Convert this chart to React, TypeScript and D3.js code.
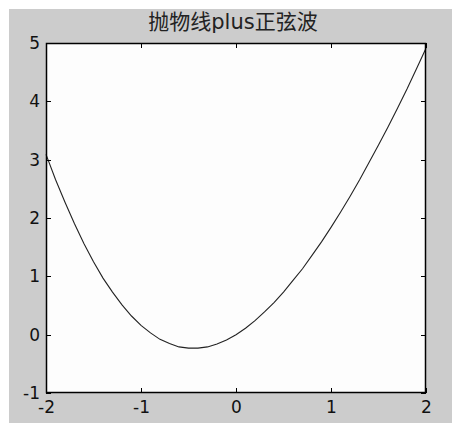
import React, { useEffect, useRef } from 'react';
import * as d3 from 'd3';

const xValues = [
  -2.0, -1.9, -1.8, -1.7, -1.6, -1.5, -1.4, -1.3, -1.2, -1.1, -1.0,
  -0.9, -0.8, -0.7, -0.6, -0.5, -0.4, -0.3, -0.2, -0.1, 0.0,
  0.1, 0.2, 0.3, 0.4, 0.5, 0.6, 0.7, 0.8, 0.9, 1.0,
  1.1, 1.2, 1.3, 1.4, 1.5, 1.6, 1.7, 1.8, 1.9, 2.0,
];
const yValues = [
  3.09, 2.66, 2.27, 1.90, 1.56, 1.25, 0.97, 0.73, 0.51, 0.32, 0.16,
  0.03, -0.08, -0.15, -0.21, -0.23, -0.23, -0.21, -0.16, -0.09, 0.0,
  0.11, 0.24, 0.39, 0.55, 0.73, 0.93, 1.13, 1.36, 1.59, 1.84,
  2.10, 2.37, 2.65, 2.95, 3.25, 3.56, 3.88, 4.21, 4.56, 4.91,
];
const xTicks = [-2, -1, 0, 1, 2];
const yTicks = [-1, 0, 1, 2, 3, 4, 5];
const title = '抛物线plus正弦波';

const width = 452;
const height = 423;
const left = 46;
const right = 426;
const top = 43;
const bottom = 393;
const font = '"DejaVu Sans", "Noto Sans CJK SC", sans-serif';

export default function App() {
  const xAxisRef = useRef<SVGGElement>(null);
  const yAxisRef = useRef<SVGGElement>(null);
  const topAxisRef = useRef<SVGGElement>(null);
  const rightAxisRef = useRef<SVGGElement>(null);

  const x = d3.scaleLinear().domain([-2, 2]).range([left, right]);
  const y = d3.scaleLinear().domain([-1, 5]).range([bottom, top]);

  const line = d3
    .line<number>()
    .x((d) => x(d))
    .y((d, i) => y(yValues[i]));

  useEffect(() => {
    const fmt = (d: d3.NumberValue) => String(d).replace('−', '-');
    const style = (g: d3.Selection<SVGGElement, unknown, null, undefined>) => {
      g.select('.domain').remove();
      g.selectAll('line').attr('stroke', '#000').attr('shape-rendering', 'crispEdges');
      g.selectAll('text')
        .attr('fill', '#111')
        .style('font-family', font)
        .style('font-size', '17px');
    };

    d3.select(xAxisRef.current!)
      .call(d3.axisBottom(x).tickValues(xTicks).tickSize(-5).tickPadding(8).tickFormat(fmt))
      .call(style);
    d3.select(yAxisRef.current!)
      .call(d3.axisLeft(y).tickValues(yTicks).tickSize(-5).tickPadding(6).tickFormat(fmt))
      .call(style);
    d3.select(topAxisRef.current!)
      .call(d3.axisTop(x).tickValues(xTicks).tickSize(-5).tickFormat(() => ''))
      .call(style);
    d3.select(rightAxisRef.current!)
      .call(d3.axisRight(y).tickValues(yTicks).tickSize(-5).tickFormat(() => ''))
      .call(style);
  }, []);

  return (
    <svg
      width={width}
      height={height}
      style={{ position: 'absolute', left: 0, top: 0, background: '#fff' }}
    >
      <rect x={9} y={9} width={width - 9} height={height - 9} fill="#cccccc" />
      <rect x={left} y={top} width={right - left} height={bottom - top} fill="#fdfdfd" />
      <text
        x={233}
        y={29}
        textAnchor="middle"
        fill="#222"
        style={{ fontFamily: font, fontSize: '21px' }}
      >
        {title}
      </text>
      <path d={line(xValues) || ''} fill="none" stroke="#222" strokeWidth={1.1} />
      <g ref={xAxisRef} transform={`translate(0,${bottom})`} />
      <g ref={yAxisRef} transform={`translate(${left},0)`} />
      <g ref={topAxisRef} transform={`translate(0,${top})`} />
      <g ref={rightAxisRef} transform={`translate(${right},0)`} />
      <rect
        x={left + 0.5}
        y={top + 0.5}
        width={right - left - 1}
        height={bottom - top - 1}
        fill="none"
        stroke="#000"
        strokeWidth={1.5}
      />
    </svg>
  );
}
